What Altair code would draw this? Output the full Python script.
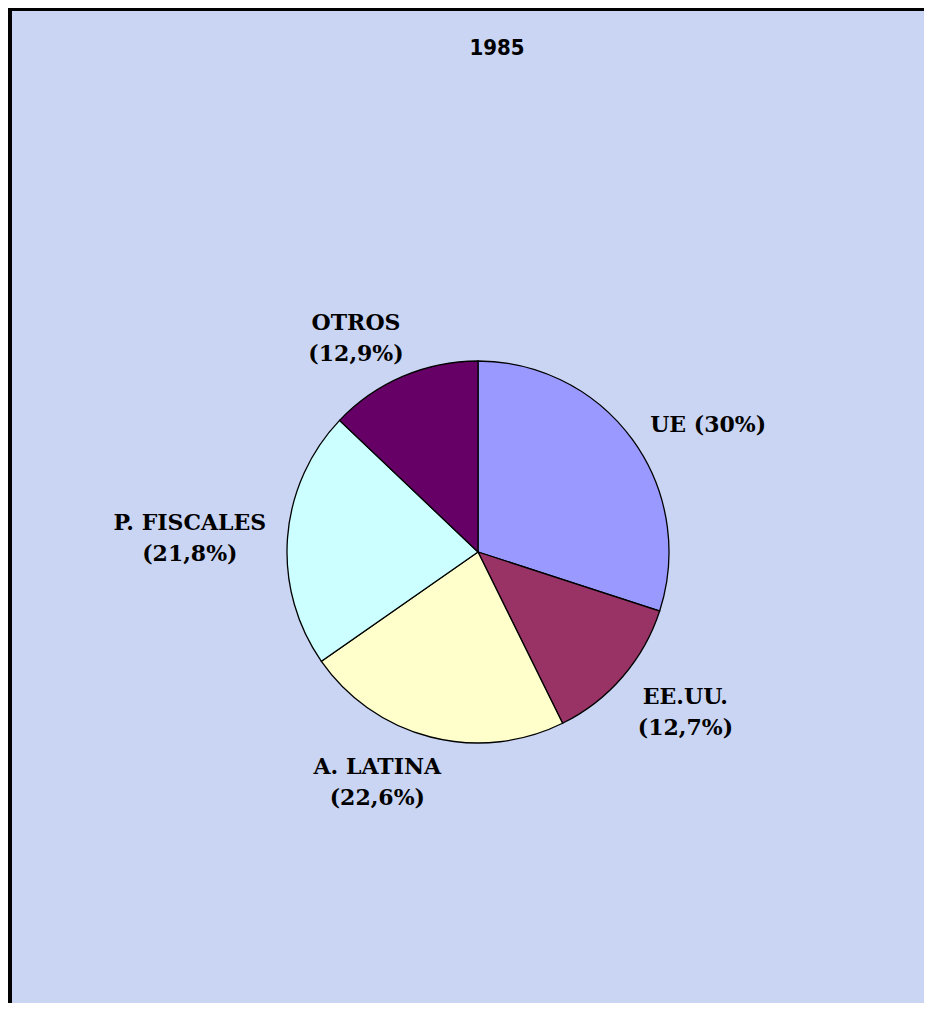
import altair as alt
import pandas as pd

# Data
categories = ["UE", "EE.UU.", "A. LATINA", "P. FISCALES", "OTROS"]
values = [30.0, 12.7, 22.6, 21.8, 12.9]
labels = ["UE (30%)", "EE.UU.\n(12,7%)", "A. LATINA\n(22,6%)", "P. FISCALES\n(21,8%)", "OTROS\n(12,9%)"]
colors = ["#9999FF", "#993366", "#FFFFCC", "#CCFFFF", "#660066"]
title_text = "1985"

df = pd.DataFrame({"cat": categories, "value": values, "label": labels, "order": list(range(len(categories)))})

W, H = 916, 995
CX, CY = 470, 544
R = 191
FONT = "DejaVu Serif"

base = alt.Chart(df).encode(
    theta=alt.Theta("value:Q", stack=True),
    order=alt.Order("order:Q", sort="ascending"),
    x=alt.value(CX),
    y=alt.value(CY),
)

pie = base.mark_arc(radius=R, stroke="black", strokeWidth=1.3).encode(
    color=alt.Color("cat:N", scale=alt.Scale(domain=categories, range=colors), legend=None),
)

def text_layer(cat, radius, dx=0, dy=0):
    return base.mark_text(
        radius=radius, align="center", baseline="middle", font=FONT, fontWeight="bold",
        fontSize=22, lineHeight=31, lineBreak="\n", color="black", dx=dx, dy=dy,
    ).encode(
        text=alt.condition(alt.FieldEqualPredicate(field="cat", equal=cat), alt.Text("label:N"), alt.value("")),
    )

lbl_ue = text_layer("UE", 261, dx=19, dy=26)
lbl_us = text_layer("EE.UU.", 261, dx=10, dy=-26)
lbl_la = text_layer("A. LATINA", 248, dx=-39, dy=-25)
lbl_pf = text_layer("P. FISCALES", 288, dx=-1, dy=-7)
lbl_ot = text_layer("OTROS", 246, dx=-25, dy=-3)

frame_left = alt.Chart(df).mark_rule(color="black", strokeWidth=4).encode(
    x=alt.value(2), y=alt.value(0), y2=alt.value(H)
)
frame_top = alt.Chart(df).mark_rule(color="black", strokeWidth=4).encode(
    x=alt.value(0), x2=alt.value(W), y=alt.value(1)
)

chart = alt.layer(pie, lbl_ue, lbl_us, lbl_la, lbl_pf, lbl_ot, frame_left, frame_top).properties(
    width=W, height=H,
    autosize=alt.AutoSizeParams(type="none"),
    padding=0,
    background="#CAD5F3",
    title=alt.TitleParams(
        title_text, anchor="middle", dx=31, dy=58, fontSize=22, fontWeight="bold",
        font="Liberation Sans Narrow, DejaVu Sans Condensed, sans-serif", color="black",
    ),
).configure_view(stroke=None)

chart.save("out.html", embed_options={"renderer": "svg", "actions": False})
